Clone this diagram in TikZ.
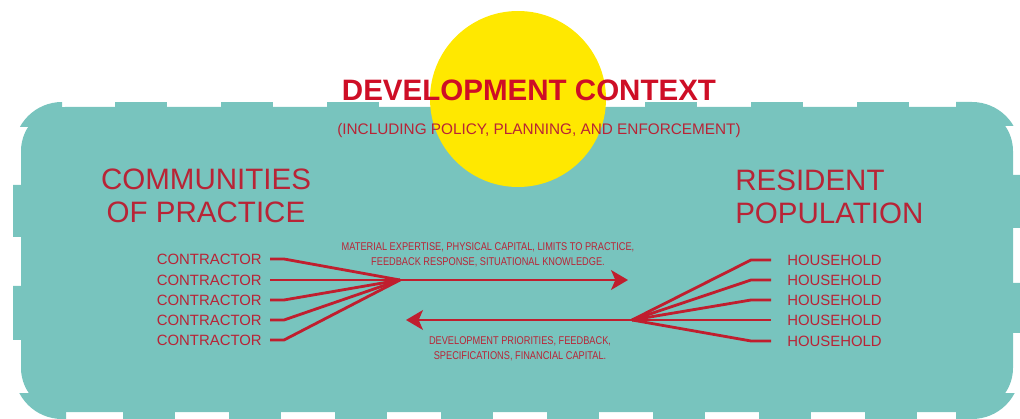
\documentclass[tikz,border=0pt]{standalone}
\usepackage{fontspec}
\setmainfont{Liberation Sans}
\newfontfamily\narrowsans[FakeStretch=0.82]{Liberation Sans}
\usetikzlibrary{arrows.meta,positioning,calc}
\definecolor{ctxteal}{RGB}{120,196,190}
\definecolor{ctxyellow}{RGB}{255,232,0}
\definecolor{ctxred}{RGB}{206,14,38}
\definecolor{ctxtext}{RGB}{184,36,54}
\definecolor{ctxline}{RGB}{192,30,46}

\begin{document}
\begin{tikzpicture}[
    x=0.025cm, y=-0.025cm,
    title/.style={font=\bfseries\fontsize{21}{24}\selectfont, text=ctxred, inner sep=0pt},
    subtitle/.style={font=\fontsize{10.9}{13}\selectfont, text=ctxtext, inner sep=0pt},
    heading/.style={font=\fontsize{21}{23.4}\selectfont, text=ctxtext, inner sep=0pt},
    actor/.style={font=\fontsize{10.6}{12}\selectfont, text=ctxtext, inner sep=0pt},
    flowlabel/.style={font=\narrowsans\fontsize{8}{10.6}\selectfont, text=ctxtext, align=center, inner sep=0pt},
    link/.style={ctxline, line width=2pt, line join=round},
    flow/.style={link, -{Stealth[length=12pt, width=14pt, inset=3pt]}}
]
\useasboundingbox (0,0) rectangle (1020,419);

% dashed rounded frame
\fill[ctxteal, rounded corners=1.1cm] (21,107) rectangle (1013,412);
\begin{scope}
  \clip (0,0) rectangle (62,127) (956,0) rectangle (1020,126)
        (0,393) rectangle (66,419) (956,393) rectangle (1020,419);
  \fill[ctxteal, rounded corners=1.2cm] (14,102) rectangle (1020,419);
\end{scope}
\foreach \k in {0,...,7} {
  \fill[ctxteal] (115+106*\k,102) rectangle ++(52,6);
  \fill[ctxteal] (123+106*\k,411) rectangle ++(52,8);
}
\fill[ctxteal] (13,185) rectangle (22,237) (13,286) rectangle (22,340);
\fill[ctxteal] (1012,175) rectangle (1020,228) (1012,283) rectangle (1020,333);

% sun
\fill[ctxyellow] (518,99) circle (88);

\node[title] (context) at (529,90) {DEVELOPMENT CONTEXT};
\node[subtitle, anchor=base] (scope) at (539,135) {(INCLUDING POLICY, PLANNING, AND ENFORCEMENT)};

\node[heading, align=center] (practice) at (206,196) {COMMUNITIES\\OF PRACTICE};
\node[heading, align=left, anchor=west] (resident) at (735,197) {RESIDENT\\POPULATION};

% actors
\foreach \i/\y in {1/259,2/280,3/300,4/320,5/340}
  \node[actor, anchor=east] (c\i) at (262,\y) {CONTRACTOR};
\foreach \i/\y in {1/260,2/280,3/300,4/320,5/341}
  \node[actor, anchor=west] (h\i) at (787,\y) {HOUSEHOLD};

\coordinate (cjoin) at (400,280);
\coordinate (cend) at (628,280);
\coordinate (hjoin) at (632,320);
\coordinate (hend) at (406,320);

\foreach \i in {1,...,5}
  \draw[link] ($(c\i.east)+(8,0)$) -- ++(14,0) -- (cjoin);
\foreach \i in {1,2,3,5}
  \draw[link] ($(h\i.west)+(-16,0)$) -- ++(-20,0) -- (hjoin);
\draw[link] ($(h4.west)+(-16,0)$) -- (hjoin);

\draw[flow] (cjoin) -- (cend);
\draw[flow] (hjoin) -- (hend);

\node[flowlabel] (supply) at (488,255) {MATERIAL EXPERTISE, PHYSICAL CAPITAL, LIMITS TO PRACTICE,\\FEEDBACK RESPONSE, SITUATIONAL KNOWLEDGE.};
\node[flowlabel] (demand) at (520,349) {DEVELOPMENT PRIORITIES, FEEDBACK,\\SPECIFICATIONS, FINANCIAL CAPITAL.};
\end{tikzpicture}
\end{document}
